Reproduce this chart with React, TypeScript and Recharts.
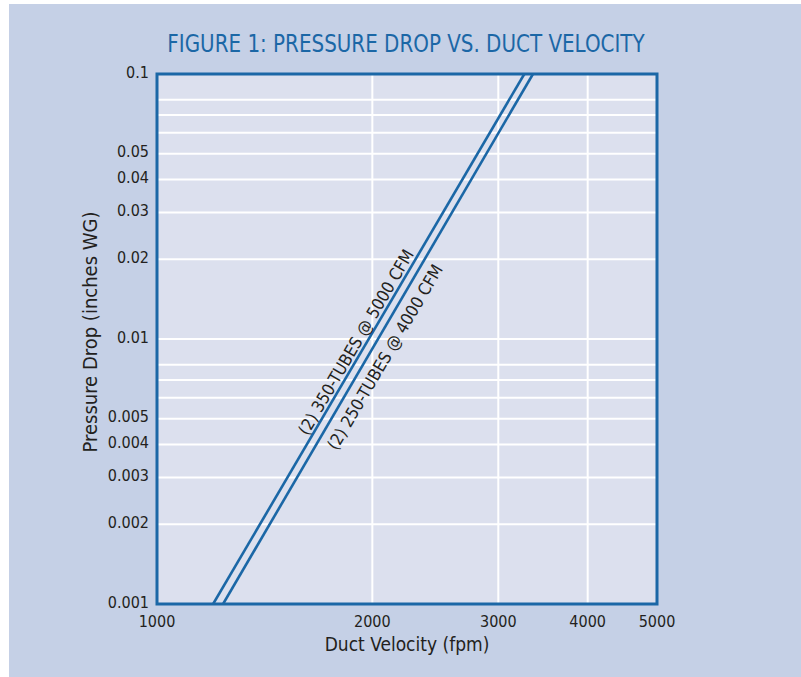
import React from 'react'
import { LineChart, Line, XAxis, YAxis, CartesianGrid, ReferenceArea, ReferenceDot } from 'recharts'

// Two straight runs on log-log axes at the bottom and top edges
const tubes350Velocity = [1198, 3262]
const tubes350Pressure = [0.001, 0.1]
const tubes250Velocity = [1237, 3354]
const tubes250Pressure = [0.001, 0.1]

const velocityTicks = [1000, 2000, 3000, 4000, 5000]
const pressureTicks = [
  0.001, 0.002, 0.003, 0.004, 0.005, 0.006, 0.007, 0.008, 0.009,
  0.01, 0.02, 0.03, 0.04, 0.05, 0.06, 0.07, 0.08, 0.09, 0.1,
]
const pressureLabels = [0.001, 0.002, 0.003, 0.004, 0.005, 0.01, 0.02, 0.03, 0.04, 0.05, 0.1]

// annotation anchors (data coords) for the rotated series labels
const seriesNotes = [
  { text: '(2) 350-TUBES @ 5000 CFM', v: 1897, p: 0.00974 },
  { text: '(2) 250-TUBES @ 4000 CFM', v: 2083, p: 0.00855 },
]

const BLUE = '#1b67a6'
const FONT = '"Liberation Sans Narrow", "DejaVu Sans Condensed", "Liberation Sans", sans-serif'
const TEXT = '#231f20'

const zip = (xs: number[], ys: number[]) => xs.map((v, i) => ({ v, p: ys[i] }))
const series350 = zip(tubes350Velocity, tubes350Pressure)
const series250 = zip(tubes250Velocity, tubes250Pressure)

const ANGLE = -59.7

function NoteLabel({ viewBox, text }: any) {
  const cx = viewBox.x + (viewBox.width || 0) / 2
  const cy = viewBox.y + (viewBox.height || 0) / 2
  return (
    <text
      x={cx}
      y={cy}
      transform={`rotate(${ANGLE} ${cx} ${cy})`}
      textAnchor="middle"
      dominantBaseline="central"
      fontFamily={FONT}
      fontSize={17}
      fill={TEXT}
    >
      {text}
    </text>
  )
}

function YTitle({ viewBox }: any) {
  const x = 90
  const y = viewBox.y + viewBox.height / 2 - 7
  return (
    <text x={x} y={y} transform={`rotate(-90 ${x} ${y})`} textAnchor="middle" dominantBaseline="central"
      fontFamily={FONT} fontSize={20} fill={TEXT}>
      Pressure Drop (inches WG)
    </text>
  )
}

export default function App() {
  return (
    <div style={{ position: 'absolute', left: 0, top: 0, width: 801, height: 677, background: '#fff' }}>
      <div style={{ position: 'absolute', left: 9, top: 4, right: 0, bottom: 0, background: '#c5d0e6' }} />
      <div
        style={{
          position: 'absolute', left: 0, top: 31, width: 812, textAlign: 'center',
          fontFamily: FONT, fontSize: 25, lineHeight: '25px', color: BLUE,
          transform: 'scaleX(0.885)', transformOrigin: '406px 0',
        }}
      >
        FIGURE 1: PRESSURE DROP VS. DUCT VELOCITY
      </div>
      <div
        style={{
          position: 'absolute', left: 0, top: 635, width: 814, textAlign: 'center',
          fontFamily: FONT, fontSize: 19, lineHeight: '19px', color: TEXT,
        }}
      >
        Duct Velocity (fpm)
      </div>
      <div style={{ position: 'absolute', left: 0, top: 0 }}>
        <LineChart width={801} height={677} margin={{ top: 74, right: 144, bottom: 23, left: 77 }}>
          <CartesianGrid stroke="#ffffff" strokeWidth={2} fill="#dce0ee" />
          <XAxis
            type="number"
            dataKey="v"
            scale="log"
            domain={[1000, 5000]}
            ticks={velocityTicks}
            allowDataOverflow
            axisLine={false}
            tickLine={false}
            tickMargin={6}
            height={50}
            tick={{ fontFamily: FONT, fontSize: 16, fill: TEXT }}
          />
          <YAxis
            type="number"
            dataKey="p"
            scale="log"
            domain={[0.001, 0.1]}
            ticks={pressureTicks}
            allowDataOverflow
            axisLine={false}
            tickLine={false}
            width={80}
            tickFormatter={(t: number) => (pressureLabels.includes(t) ? String(t) : '')}
            tick={{ fontFamily: FONT, fontSize: 16, fill: TEXT, dy: -2 }}
            label={{ content: <YTitle /> }}
          />
          <Line data={series350} dataKey="p" stroke={BLUE} strokeWidth={2.6} dot={false} isAnimationActive={false} />
          <Line data={series250} dataKey="p" stroke={BLUE} strokeWidth={2.6} dot={false} isAnimationActive={false} />
          <ReferenceArea x1={1000} x2={5000} y1={0.001} y2={0.1} fill="none" stroke={BLUE} strokeWidth={3} ifOverflow="visible" />
          {seriesNotes.map((n) => (
            <ReferenceDot key={n.text} x={n.v} y={n.p} r={0} stroke="none" fill="none"
              label={<NoteLabel text={n.text} />} />
          ))}
        </LineChart>
      </div>
    </div>
  )
}
